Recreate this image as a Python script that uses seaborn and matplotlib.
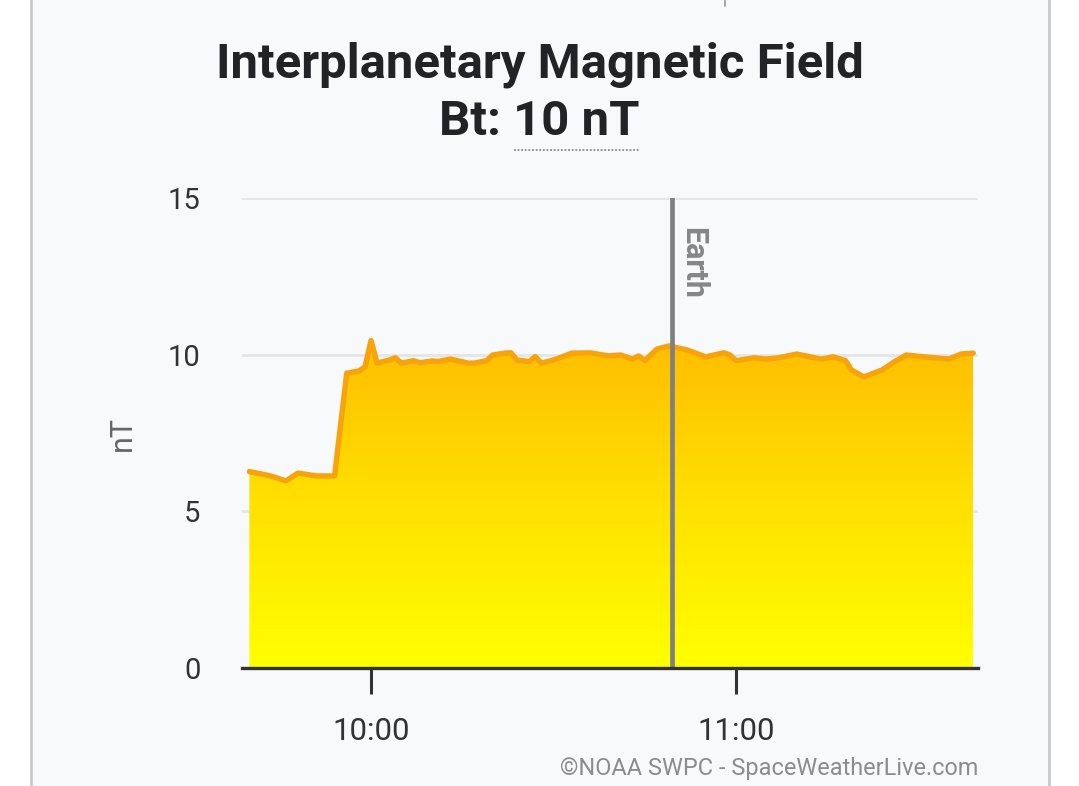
import numpy as np
import pandas as pd
import matplotlib
matplotlib.use("Agg")
import matplotlib.pyplot as plt
import matplotlib.dates as mdates
from matplotlib.colors import LinearSegmentedColormap
from matplotlib.patches import Rectangle
from matplotlib.lines import Line2D
import seaborn as sns

# Bt values (time of day, nT)
TIMES = [
    "09:40", "09:43", "09:44", "09:46", "09:48", "09:51", "09:53", "09:54",
    "09:56", "09:58", "09:59", "10:00", "10:01", "10:03", "10:04", "10:05",
    "10:07", "10:08", "10:10", "10:11", "10:13", "10:16", "10:17", "10:19",
    "10:20", "10:22", "10:23", "10:24", "10:26", "10:27", "10:28", "10:30",
    "10:31", "10:33", "10:34", "10:36", "10:39", "10:41", "10:43", "10:44",
    "10:45", "10:47", "10:49", "10:52", "10:55", "10:58", "10:59", "11:00",
    "11:03", "11:05", "11:07", "11:10", "11:14", "11:16", "11:18", "11:19",
    "11:21", "11:24", "11:26", "11:28", "11:31", "11:35", "11:37", "11:39",
]
BT = [
    6.27, 6.15, 6.10, 5.97, 6.22, 6.13, 6.13, 6.13,
    9.41, 9.48, 9.61, 10.45, 9.73, 9.83, 9.90, 9.73,
    9.81, 9.74, 9.80, 9.78, 9.86, 9.73, 9.73, 9.81,
    9.99, 10.05, 10.06, 9.83, 9.78, 9.94, 9.73, 9.83,
    9.90, 10.05, 10.05, 10.06, 9.96, 9.99, 9.86, 9.96,
    9.81, 10.18, 10.28, 10.15, 9.93, 10.06, 9.99, 9.81,
    9.90, 9.86, 9.90, 10.02, 9.86, 9.93, 9.81, 9.51,
    9.29, 9.51, 9.77, 9.99, 9.93, 9.86, 10.02, 10.05,
]
Y_TICKS = [0, 5, 10, 15]
X_TICKS = ["10:00", "11:00"]
EARTH_TIME = "10:49:30"
X_RANGE = ("09:38:47", "11:39:47")
CURRENT_BT = "10 nT"

DAY = "2024-01-01 "


def to_time(s):
    return pd.Timestamp(DAY + s)


df = pd.DataFrame({"time": [to_time(t) for t in TIMES], "bt": BT})

sns.set_theme(style="white")
plt.rcParams["font.family"] = ["Roboto", "DejaVu Sans"]

CARD = "#f8f9fa"
fig = plt.figure(figsize=(10.79, 7.86), dpi=100, facecolor="white")

# card background
fig.add_artist(Rectangle((31 / 1079, -0.01), (1049 - 31) / 1079, 1.05,
                         transform=fig.transFigure, facecolor=CARD,
                         edgecolor="#c9c9c9", lw=2, zorder=-10))
fig.add_artist(Line2D([725 / 1079] * 2, [1.0, 1 - 6 / 786],
                      transform=fig.transFigure, color="#9a9a9a", lw=1.2))

ax = fig.add_axes([242 / 1079, 1 - 668 / 786, (978 - 242) / 1079, (668 - 198) / 786])
ax.set_facecolor("none")

x0, x1 = to_time(X_RANGE[0]), to_time(X_RANGE[1])

# gradient fill under the curve
fill = ax.fill_between(df["time"], df["bt"], 0, facecolor="none", edgecolor="none")
cmap = LinearSegmentedColormap.from_list("ymo", ["#ffff00", "#ffe100", "#ffbd00"])
grad = np.linspace(0, 1, 256).reshape(-1, 1)
top = df["bt"].max()
img = ax.imshow(grad, cmap=cmap, aspect="auto", origin="lower",
                extent=[mdates.date2num(df["time"].iloc[0]), mdates.date2num(df["time"].iloc[-1]), 0, top],
                zorder=1)
img.set_clip_path(fill.get_paths()[0], transform=ax.transData)

sns.lineplot(data=df, x="time", y="bt", ax=ax, color="#f6a30c", lw=3.9,
             zorder=3, solid_joinstyle="round", solid_capstyle="round")
ax.set_xlim(x0, x1)
ax.set_ylim(0, 15)

# Earth marker
earth = to_time(EARTH_TIME)
ax.axvline(earth, color="#808080", lw=3.4, zorder=4)
ax.annotate("Earth", xy=(earth, 15), xytext=(15, -21), textcoords="offset points",
            rotation=270, ha="center", va="top", fontsize=22, fontweight="bold",
            color="#868686", zorder=5)

# axes styling
ax.set_yticks(Y_TICKS)
ax.set_xticks([to_time(t) for t in X_TICKS])
ax.xaxis.set_major_formatter(mdates.DateFormatter("%H:%M"))
ax.yaxis.grid(True, color="#e3e5e8", lw=2, zorder=0)
ax.set_axisbelow(True)
for side in ["top", "right", "left"]:
    ax.spines[side].set_visible(False)
ax.spines["bottom"].set_color("#333333")
ax.spines["bottom"].set_linewidth(2.4)
ax.spines["bottom"].set_zorder(6)
ax.tick_params(axis="x", bottom=True, direction="out", length=19, width=2.2,
               color="#333333", pad=16, labelsize=22.5, labelcolor="#333333")
ax.tick_params(axis="y", left=False, length=0, pad=30, labelsize=21,
               labelcolor="#333333")
ax.set_xlabel("")
ax.set_ylabel("nT", fontsize=22, color="#666666", labelpad=22)

# title
fig.text(0.5, 1 - 77 / 786, "Interplanetary Magnetic Field", ha="center",
         va="baseline", fontsize=35.4, fontweight="bold", color="#212326")
fig.text(0.5, 1 - 135 / 786, "Bt: " + CURRENT_BT, ha="center",
         va="baseline", fontsize=35.4, fontweight="bold", color="#212326")
fig.add_artist(Line2D([514 / 1079, 640 / 1079], [1 - 150 / 786] * 2,
                      transform=fig.transFigure, color="#8a8a8a", lw=1.3,
                      linestyle=(0, (1, 1))))

fig.text(978 / 1079, 1 - 775 / 786, "©NOAA SWPC - SpaceWeatherLive.com",
         ha="right", va="baseline", fontsize=16.9, color="#8c8c8c")

fig.savefig("out.png", dpi=100, facecolor=fig.get_facecolor())
